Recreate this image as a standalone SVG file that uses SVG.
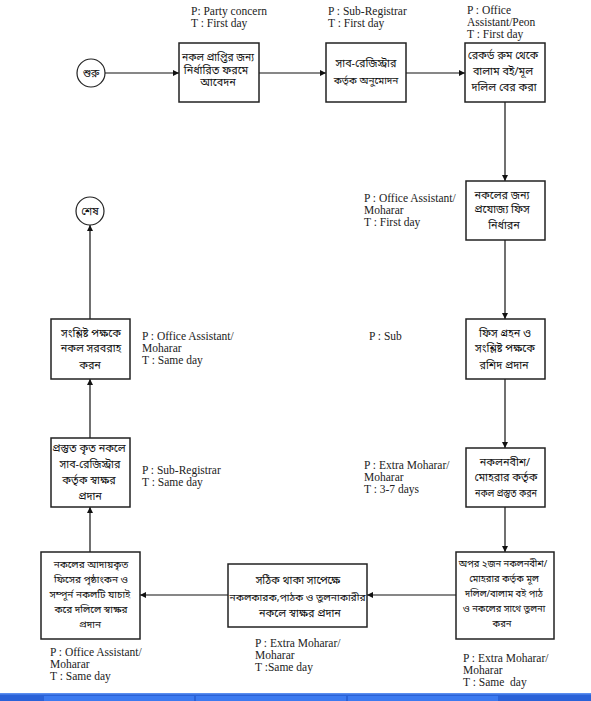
<svg xmlns="http://www.w3.org/2000/svg" width="591" height="701" viewBox="0 0 591 701">
<style>
.box{fill:#fff;stroke:#222;stroke-width:1.5}
.circ{fill:#fff;stroke:#222;stroke-width:1.2}
.bn{font-family:"Noto Sans Bengali","Noto Sans",sans-serif;font-size:10.8px;fill:#111;text-anchor:middle}
.sm{font-size:9.4px}
.md{font-size:10px}
.en{font-family:"Liberation Serif",serif;font-size:11.5px;fill:#222}
.conn{stroke:#111;stroke-width:1.2;fill:none;marker-end:url(#ah)}
</style>
<defs>
<marker id="ah" viewBox="0 0 8 8" refX="8" refY="4" markerWidth="6" markerHeight="6" orient="auto" markerUnits="userSpaceOnUse">
<path d="M0,0 L8,4 L0,8 z" fill="#111"/>
</marker>
</defs>
<rect x="0" y="0" width="591" height="701" fill="#fff"/>
<g id="connectors">
<line class="conn" x1="105" y1="73" x2="179" y2="73"/>
<line class="conn" x1="259" y1="73" x2="326" y2="73"/>
<line class="conn" x1="406" y1="73" x2="465" y2="73"/>
<line class="conn" x1="505" y1="102" x2="505" y2="181"/>
<line class="conn" x1="505" y1="240" x2="505" y2="319"/>
<line class="conn" x1="505" y1="379" x2="505" y2="448"/>
<line class="conn" x1="505" y1="507" x2="505" y2="552"/>
<line class="conn" x1="456" y1="595" x2="367" y2="595"/>
<line class="conn" x1="228" y1="595" x2="140" y2="595"/>
<line class="conn" x1="90" y1="552" x2="90" y2="507"/>
<line class="conn" x1="90" y1="438" x2="90" y2="379"/>
<line class="conn" x1="90" y1="319" x2="90" y2="225"/>
</g>
<g id="start">
<circle class="circ" cx="91" cy="73" r="14"/>
<text class="bn" x="91" y="77">শুরু</text>
</g>
<g id="n1">
<rect class="box" x="179" y="43" width="80" height="59"/>
<text class="bn" x="218" y="61" textLength="72" lengthAdjust="spacingAndGlyphs">নকল প্রাপ্তির জন্য</text>
<text class="bn" x="216" y="73.5">নির্ধারিত ফরমে</text>
<text class="bn" x="218" y="86">আবেদন</text>
</g>
<g id="n2">
<rect class="box" x="326" y="43" width="80" height="59"/>
<text class="bn" x="366" y="67">সাব-রেজিস্ট্রার</text>
<text class="bn md" x="366" y="84">কর্তৃক অনুমোদন</text>
</g>
<g id="n3">
<rect class="box" x="465" y="43" width="80" height="59"/>
<text class="bn" x="503" y="59">রেকর্ড রুম থেকে</text>
<text class="bn" x="503" y="75">বালাম বই/মূল</text>
<text class="bn" x="504" y="91">দলিল বের করা</text>
</g>
<g id="n4">
<rect class="box" x="466" y="181" width="79" height="59"/>
<text class="bn" x="502" y="199">নকলের জন্য</text>
<text class="bn" x="502" y="213">প্রযোজ্য ফিস</text>
<text class="bn" x="504" y="229">নির্ধারন</text>
</g>
<g id="n5">
<rect class="box" x="466" y="319" width="79" height="60"/>
<text class="bn" x="505" y="337">ফিস গ্রহন ও</text>
<text class="bn" x="505" y="352">সংশ্লিষ্ট পক্ষকে</text>
<text class="bn" x="504" y="369">রশিদ প্রদান</text>
</g>
<g id="n6">
<rect class="box" x="466" y="448" width="79" height="59"/>
<text class="bn" x="505" y="466">নকলনবীশ/</text>
<text class="bn" x="506" y="481">মোহরার কর্তৃক</text>
<text class="bn" x="506" y="497" textLength="62" lengthAdjust="spacingAndGlyphs">নকল প্রস্তুত করন</text>
</g>
<g id="n7">
<rect class="box" x="456" y="552" width="98" height="87"/>
<text class="bn sm" x="503" y="567">অপর ২জন নকলনবীশ/</text>
<text class="bn sm" x="504" y="582">মোহরার কর্তৃক মূল</text>
<text class="bn sm" x="504" y="597">দলিল/বালাম বই পাঠ</text>
<text class="bn sm" x="504" y="612">ও নকলের সাথে তুলনা</text>
<text class="bn sm" x="502" y="627">করন</text>
</g>
<g id="n8">
<rect class="box" x="228" y="564" width="139" height="63"/>
<text class="bn" x="298" y="584">সঠিক থাকা সাপেক্ষে</text>
<text class="bn md" x="297.5" y="601" textLength="136" lengthAdjust="spacingAndGlyphs">নকলকারক,পাঠক ও তুলনাকারীর</text>
<text class="bn" x="300" y="617">নকলে স্বাক্ষর প্রদান</text>
</g>
<g id="n9">
<rect class="box" x="41" y="552" width="99" height="87"/>
<text class="bn md" x="91" y="568">নকলের আদায়কৃত</text>
<text class="bn md" x="91" y="583">ফিসের পৃষ্ঠাংকন ও</text>
<text class="bn md" x="90" y="598">সম্পূর্ন নকলটি যাচাই</text>
<text class="bn md" x="91" y="613">করে দলিলে স্বাক্ষর</text>
<text class="bn md" x="90" y="628">প্রদান</text>
</g>
<g id="n10">
<rect class="box" x="51" y="438" width="79" height="69"/>
<text class="bn" x="89" y="452">প্রস্তুত কৃত নকলে</text>
<text class="bn" x="90" y="468">সাব-রেজিস্ট্রার</text>
<text class="bn" x="89" y="484">কর্তৃক স্বাক্ষর</text>
<text class="bn" x="90" y="500">প্রদান</text>
</g>
<g id="n11">
<rect class="box" x="51" y="319" width="79" height="60"/>
<text class="bn" x="91" y="337">সংশ্লিষ্ট পক্ষকে</text>
<text class="bn" x="91" y="352">নকল সরবরাহ</text>
<text class="bn" x="90" y="369">করন</text>
</g>
<g id="end">
<circle class="circ" cx="90" cy="211" r="14"/>
<text class="bn" x="90" y="215">শেষ</text>
</g>
<g id="labels">
<text class="en" x="191" y="15">P: Party concern</text>
<text class="en" x="191" y="27">T : First day</text>
<text class="en" x="328" y="15">P : Sub-Registrar</text>
<text class="en" x="328" y="27">T : First day</text>
<text class="en" x="467" y="14">P : Office</text>
<text class="en" x="467" y="26">Assistant/Peon</text>
<text class="en" x="467" y="38">T : First day</text>
<text class="en" x="364" y="202">P : Office Assistant/</text>
<text class="en" x="364" y="214">Moharar</text>
<text class="en" x="364" y="226">T : First day</text>
<text class="en" x="369" y="340">P : Sub</text>
<text class="en" x="364" y="469">P : Extra Moharar/</text>
<text class="en" x="364" y="481">Moharar</text>
<text class="en" x="364" y="493">T : 3-7 days</text>
<text class="en" x="142" y="340">P : Office Assistant/</text>
<text class="en" x="142" y="352">Moharar</text>
<text class="en" x="142" y="364">T : Same day</text>
<text class="en" x="142" y="474">P : Sub-Registrar</text>
<text class="en" x="142" y="486">T : Same day</text>
<text class="en" x="255" y="647">P : Extra Moharar/</text>
<text class="en" x="255" y="659">Moharar</text>
<text class="en" x="255" y="671">T :Same day</text>
<text class="en" x="463" y="662">P : Extra Moharar/</text>
<text class="en" x="463" y="674">Moharar</text>
<text class="en" x="463" y="686" xml:space="preserve">T : Same  day</text>
<text class="en" x="50" y="656">P : Office Assistant/</text>
<text class="en" x="50" y="668">Moharar</text>
<text class="en" x="50" y="680">T : Same day</text>
</g>
<g id="taskbar">
<rect x="0" y="693" width="591" height="8" fill="#2a62d8"/>
<rect x="0" y="693" width="591" height="1.5" fill="#5a8ef0"/>
<rect x="44" y="696" width="150" height="5" fill="#3c7af0"/>
<rect x="196" y="696" width="150" height="5" fill="#3c7af0"/>
<rect x="348" y="696" width="150" height="5" fill="#3c7af0"/>
</g>
</svg>
